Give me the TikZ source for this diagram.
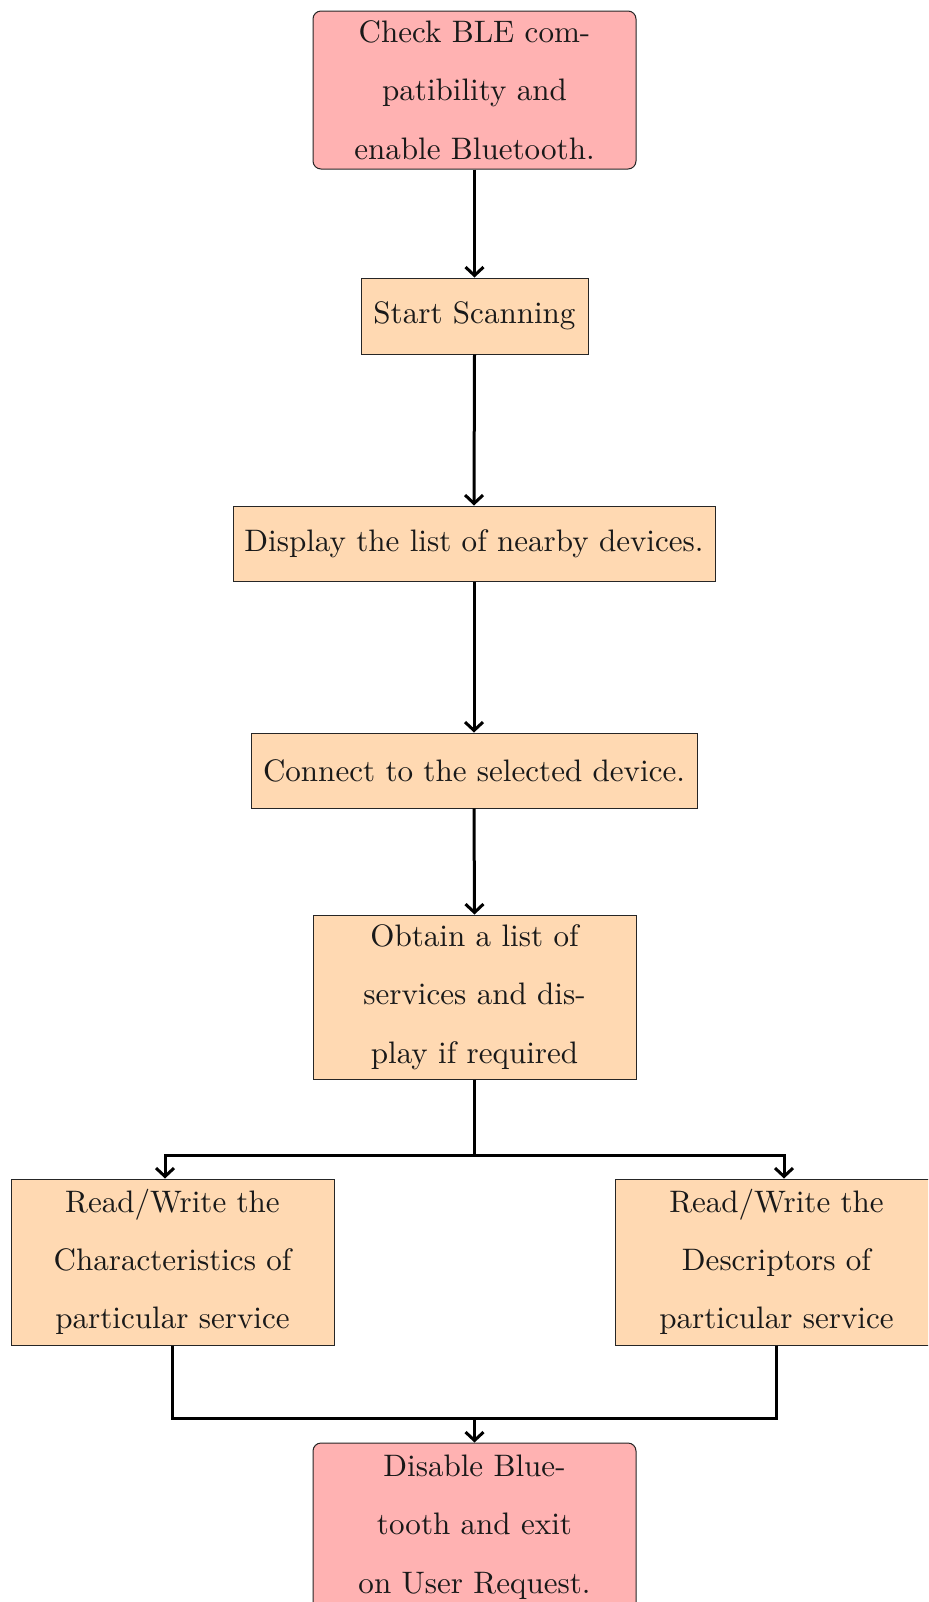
\documentclass[tikz,border=0pt]{standalone}
\usepackage{fontspec}
\setmainfont{lmroman10-regular.otf}
\usetikzlibrary{calc,arrows.meta}
\begin{document}
\begin{tikzpicture}[x=0.5pt,y=-0.5pt,
  box/.style={draw=black!85, line width=0.5pt, fill=orange!30, align=center,
    inner sep=0pt, text=black!90, font=\fontsize{15.53}{29.15}\selectfont},
  term/.style={box, fill=red!30, rounded corners=4pt},
  flow/.style={line width=1.5pt, -{Straight Barb[length=4.2pt,width=9pt]}},
  link/.style={line width=1.5pt}]
  \useasboundingbox (0,0) rectangle (928,1602);
  \clip (0,0) rectangle (928,1602);

  % process steps
  \node[term, minimum width=161.5pt, minimum height=79pt] (check) at (474.5,90)
    {Check BLE com-\\patibility and\\enable Bluetooth.};
  \node[box, minimum width=113.5pt, minimum height=38pt] (scan) at (474.5,316)
    {Start Scanning};
  \node[box, minimum width=241pt, minimum height=37.5pt] (disp) at (474,543.5)
    {Display the list of nearby devices.};
  \node[box, minimum width=223pt, minimum height=37.5pt] (conn) at (474,770.5)
    {Connect to the selected device.};
  \node[box, minimum width=161.5pt, minimum height=82pt] (obtain) at (474.5,997)
    {Obtain a list of\\services and dis-\\play if required};
  \node[box, minimum width=161.5pt, minimum height=83pt] (charac) at (172.5,1262)
    {Read/Write the\\Characteristics of\\particular service};
  \node[box, minimum width=161.5pt, minimum height=83pt] (desc) at (776.5,1262)
    {Read/Write the\\Descriptors of\\particular service};
  \node[term, minimum width=161.5pt, minimum height=84pt] (disable) at (474.5,1527)
    {Disable Blue-\\tooth and exit\\on User Request.};

  % straight chain
  \draw[flow] (check.south) -- (scan.north);
  \draw[flow] (scan.south) -- (disp.north);
  \draw[flow] (disp.south) -- (conn.north);
  \draw[flow] (conn.south) -- (obtain.north);

  % split into the two read/write branches
  \coordinate (split) at ($(obtain.south)+(0,76)$);
  \draw[link] (obtain.south) -- (split);
  \draw[flow] (split) -| ($(charac.north)+(-7.5,0)$);
  \draw[flow] (split) -| ($(desc.north)+(7.5,0)$);

  % join the branches again
  \coordinate (merge) at ($(disable.north)+(0,-24)$);
  \draw[link] (charac.south) |- (merge);
  \draw[link] (desc.south) |- (merge);
  \draw[flow] (merge) -- (disable.north);
\end{tikzpicture}
\end{document}
